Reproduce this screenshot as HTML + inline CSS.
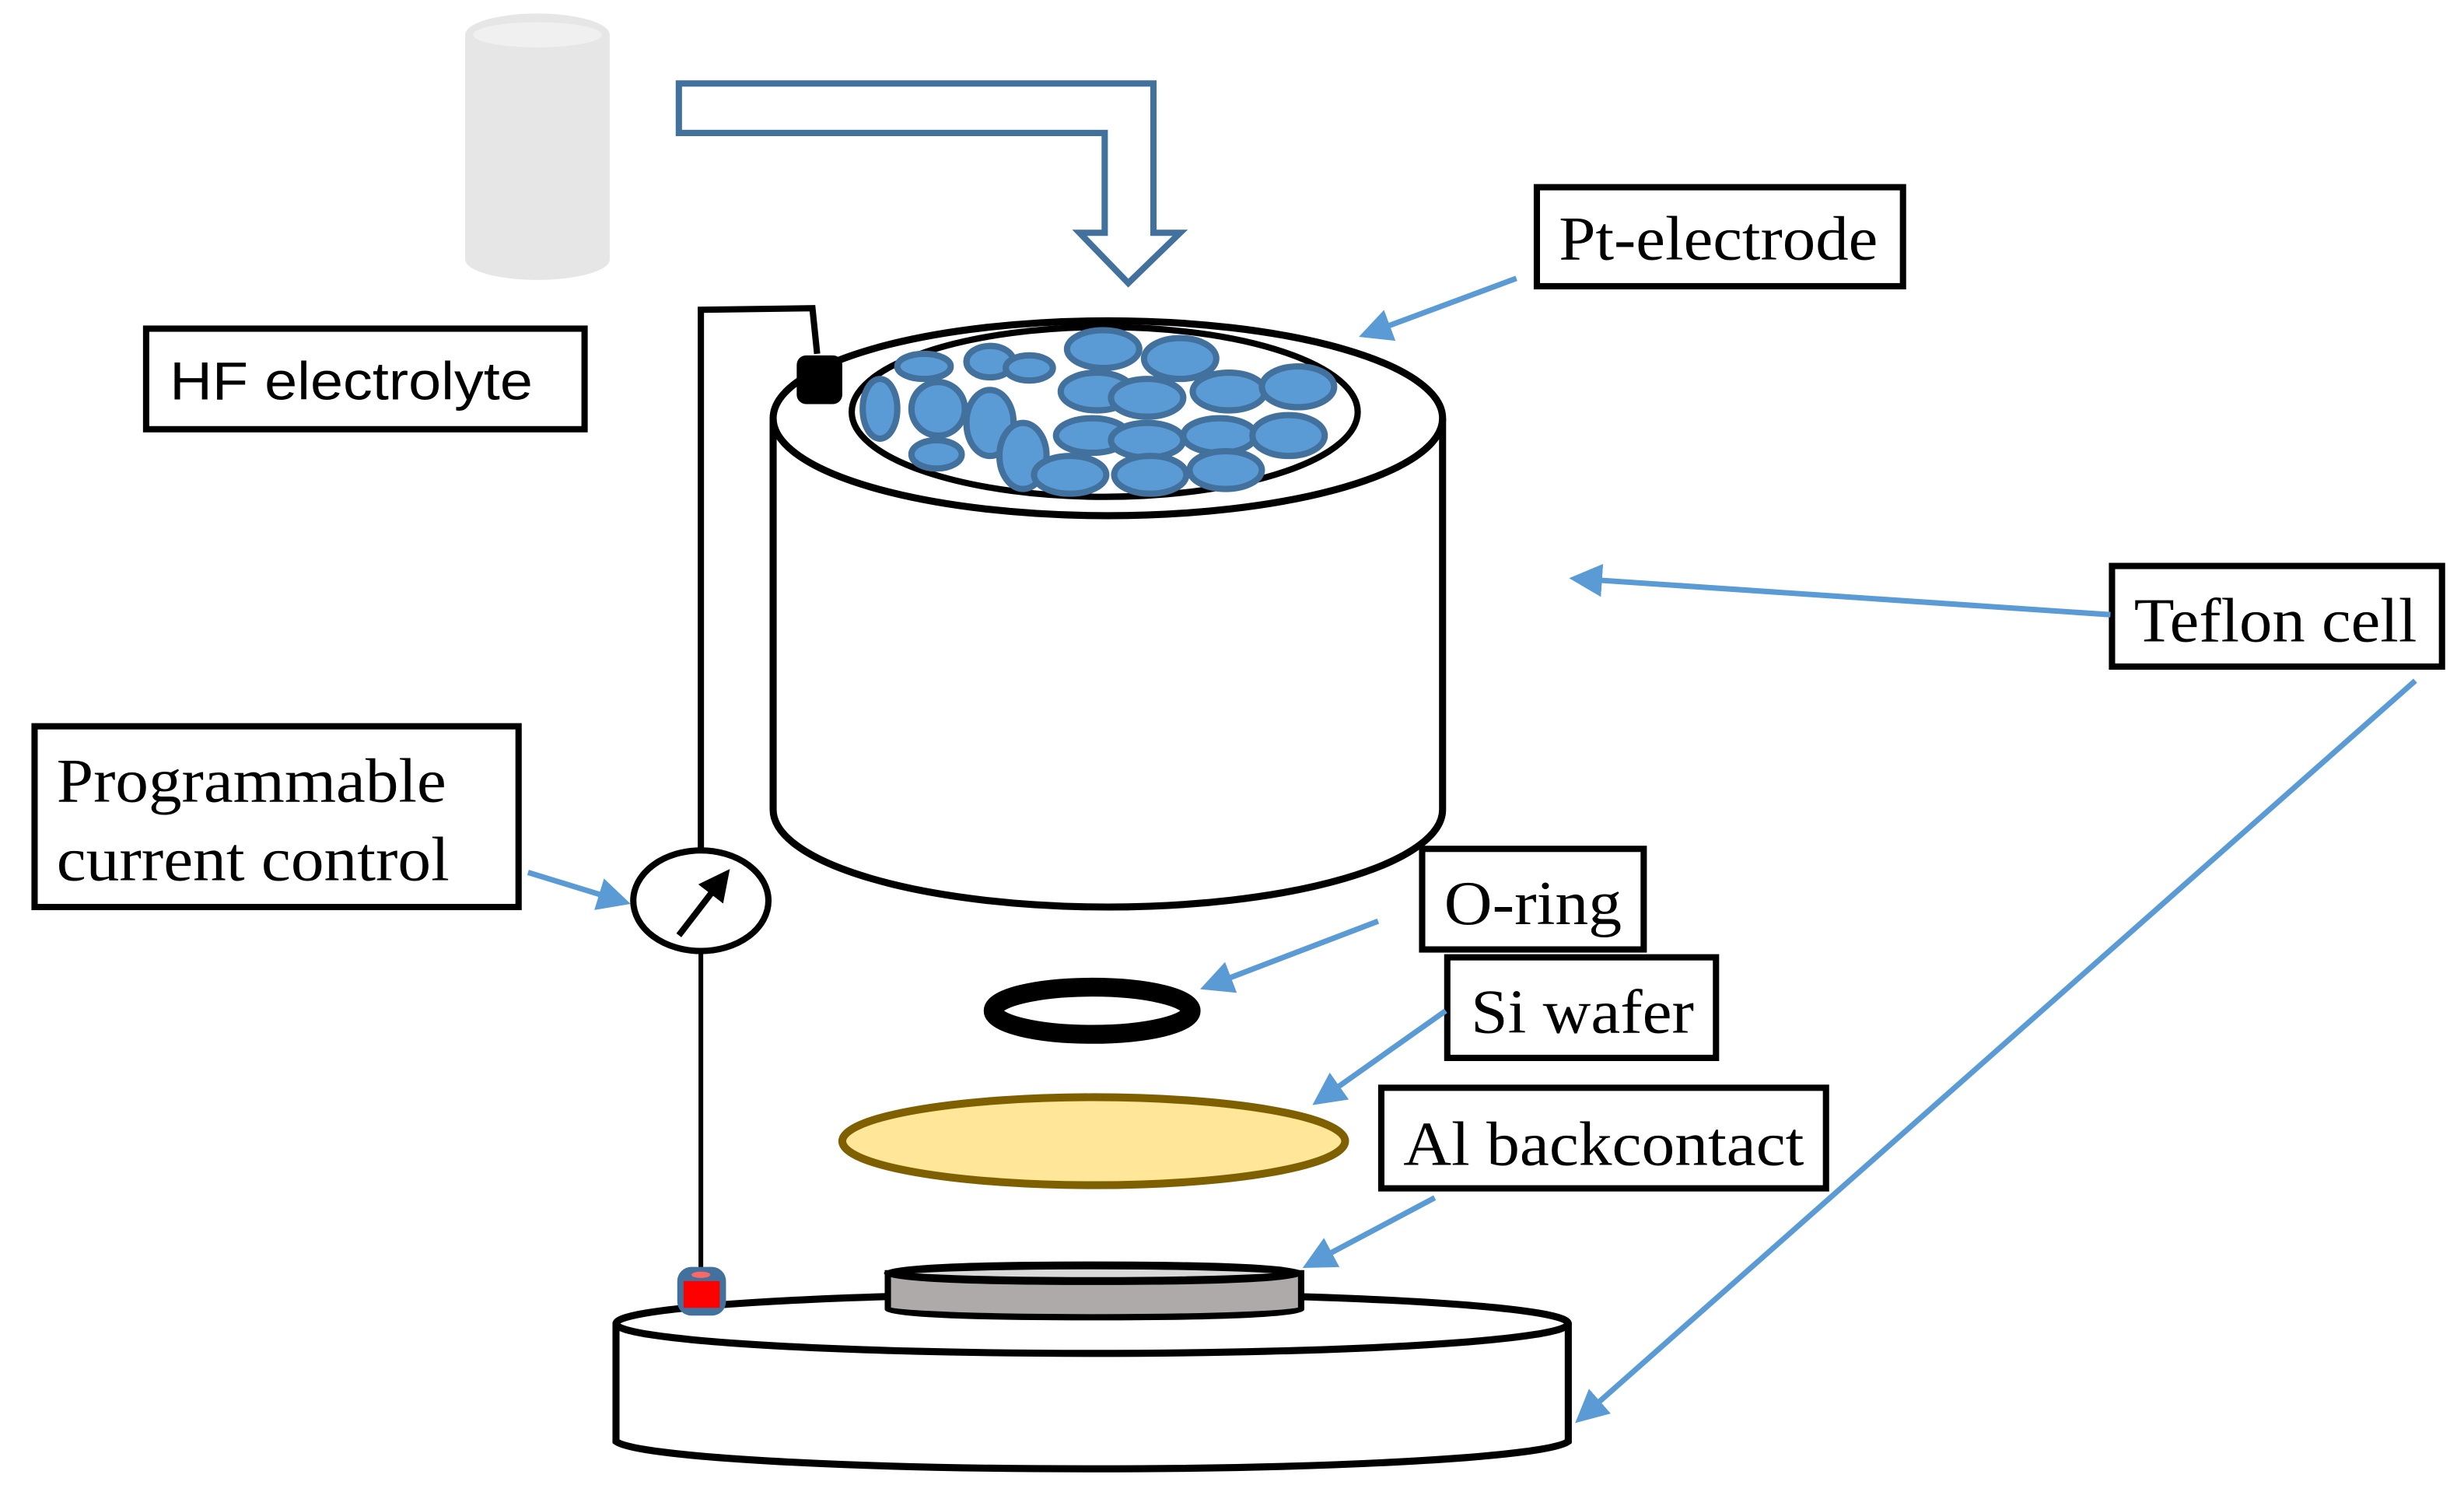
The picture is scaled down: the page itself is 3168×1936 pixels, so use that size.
<!DOCTYPE html>
<html><head><meta charset="utf-8"><style>
html,body{margin:0;padding:0;background:#fff;}
svg{display:block;}
.t{font-family:"Liberation Serif",serif;font-size:40px;fill:#000;}
</style></head><body>
<svg width="3168" height="1936" viewBox="0 0 1568 958" xmlns="http://www.w3.org/2000/svg">
<defs>
<marker id="ah" markerWidth="6" markerHeight="6" refX="5" refY="3" orient="auto" markerUnits="strokeWidth"><path d="M0,0 L6,3 L0,6 Z" fill="#5b9bd5"/></marker>
<marker id="bh" markerWidth="5" markerHeight="5" refX="4" refY="2.5" orient="auto" markerUnits="strokeWidth"><path d="M0,0 L5,2.5 L0,5 Z" fill="#000"/></marker>
</defs>
<rect width="1568" height="958" fill="#fff"/>
<path d="M296,22 L296,165 A46,13 0 0 0 388,165 L388,22 Z" fill="#e6e6e6"/>
<ellipse cx="342" cy="22" rx="46" ry="13.5" fill="#e6e6e6"/>
<ellipse cx="342" cy="22" rx="41" ry="8" fill="#f0f0f0"/>
<path d="M432,53 L734,53 L734,148 L751,148 L718,180 L687,148 L703,148 L703,84.5 L432,84.5 Z" fill="#fff" stroke="#41719c" stroke-width="4"/>
<rect x="93" y="209" width="279" height="64" fill="#fff" stroke="#000" stroke-width="4"/>
<text x="108" y="254" textLength="231" lengthAdjust="spacingAndGlyphs" style="font-family:'Liberation Sans',sans-serif;font-size:34px;">HF electrolyte</text>
<path d="M446,572 L446,197 L517,196 L520,225" fill="none" stroke="#000" stroke-width="4"/>
<path d="M492,266 L492,515 A213,62 0 0 0 918,515 L918,266" fill="#fff" stroke="#000" stroke-width="4.5"/>
<ellipse cx="705" cy="266" rx="213" ry="62" fill="#fff" stroke="#000" stroke-width="4.5"/>
<ellipse cx="703" cy="262" rx="161" ry="54" fill="#fff" stroke="#000" stroke-width="4"/>
<g fill="#5b9bd5" stroke="#41719c" stroke-width="4">
<ellipse cx="588" cy="233" rx="17" ry="8"/>
<ellipse cx="630" cy="230" rx="15" ry="10"/>
<ellipse cx="655" cy="234" rx="15" ry="8"/>
<ellipse cx="702" cy="222" rx="23" ry="12"/>
<ellipse cx="751" cy="228" rx="23" ry="13"/>
<ellipse cx="560" cy="260" rx="11" ry="19"/>
<ellipse cx="597" cy="260" rx="17" ry="17"/>
<ellipse cx="630" cy="269" rx="15" ry="21"/>
<ellipse cx="651" cy="290" rx="15" ry="21"/>
<ellipse cx="596" cy="289" rx="16" ry="9"/>
<ellipse cx="698" cy="249" rx="23" ry="12"/>
<ellipse cx="782" cy="249" rx="23" ry="12"/>
<ellipse cx="826" cy="246" rx="23" ry="13"/>
<ellipse cx="730" cy="253" rx="23" ry="12"/>
<ellipse cx="695" cy="277" rx="23" ry="11"/>
<ellipse cx="776" cy="277" rx="23" ry="11"/>
<ellipse cx="820" cy="277" rx="23" ry="13"/>
<ellipse cx="730" cy="280" rx="23" ry="11"/>
<ellipse cx="681" cy="302" rx="23" ry="12"/>
<ellipse cx="780" cy="299" rx="23" ry="12"/>
<ellipse cx="732" cy="302" rx="23" ry="12"/>
</g>
<rect x="507" y="226" width="29" height="31" rx="6" fill="#000"/>
<rect x="978" y="119" width="233" height="63" fill="#fff" stroke="#000" stroke-width="4"/>
<text class="t" x="992" y="165" textLength="203" lengthAdjust="spacingAndGlyphs">Pt-electrode</text>
<line x1="965" y1="177" x2="868" y2="213" stroke="#5b9bd5" stroke-width="3.5" marker-end="url(#ah)"/>
<rect x="1344" y="360" width="210" height="64" fill="#fff" stroke="#000" stroke-width="4"/>
<text class="t" x="1358" y="408" textLength="180" lengthAdjust="spacingAndGlyphs">Teflon cell</text>
<line x1="1343" y1="391" x2="1002" y2="368" stroke="#5b9bd5" stroke-width="3.5" marker-end="url(#ah)"/>
<line x1="1537" y1="433" x2="1005" y2="903" stroke="#5b9bd5" stroke-width="3.5" marker-end="url(#ah)"/>
<rect x="22" y="462" width="308" height="115" fill="#fff" stroke="#000" stroke-width="4"/>
<text class="t" x="36" y="510" textLength="248" lengthAdjust="spacingAndGlyphs">Programmable</text>
<text class="t" x="36" y="560" textLength="250" lengthAdjust="spacingAndGlyphs">current control</text>
<line x1="336" y1="555" x2="398" y2="574" stroke="#5b9bd5" stroke-width="3.5" marker-end="url(#ah)"/>
<ellipse cx="446" cy="573" rx="43" ry="32" fill="#fff" stroke="#000" stroke-width="4"/>
<line x1="432" y1="595" x2="462" y2="556" stroke="#000" stroke-width="4" marker-end="url(#bh)"/>
<line x1="446" y1="605" x2="446" y2="808" stroke="#000" stroke-width="3"/>
<rect x="905" y="540" width="141" height="64" fill="#fff" stroke="#000" stroke-width="4"/>
<text class="t" x="919" y="588" textLength="113" lengthAdjust="spacingAndGlyphs">O-ring</text>
<line x1="877" y1="586" x2="767" y2="628" stroke="#5b9bd5" stroke-width="3.5" marker-end="url(#ah)"/>
<ellipse cx="695" cy="643" rx="63" ry="15" fill="none" stroke="#000" stroke-width="12"/>
<rect x="921" y="609" width="171" height="64" fill="#fff" stroke="#000" stroke-width="4"/>
<text class="t" x="936" y="657" textLength="142" lengthAdjust="spacingAndGlyphs">Si wafer</text>
<line x1="920" y1="643" x2="838" y2="701" stroke="#5b9bd5" stroke-width="3.5" marker-end="url(#ah)"/>
<ellipse cx="696" cy="726" rx="160" ry="28" fill="#ffe699" stroke="#7f6000" stroke-width="5"/>
<rect x="879" y="692" width="283" height="64" fill="#fff" stroke="#000" stroke-width="4"/>
<text class="t" x="893" y="741" textLength="255" lengthAdjust="spacingAndGlyphs">Al backcontact</text>
<line x1="913" y1="762" x2="832" y2="805" stroke="#5b9bd5" stroke-width="3.5" marker-end="url(#ah)"/>
<path d="M392,842 L392,917 A304,19 0 0 0 998,917 L998,842" fill="#fff" stroke="#000" stroke-width="4.5"/>
<ellipse cx="695" cy="842" rx="303" ry="19" fill="#fff" stroke="#000" stroke-width="4.5"/>
<path d="M565,810 L565,833 A131,5 0 0 0 828,833 L828,810 Z" fill="#aeaaaa" stroke="#000" stroke-width="4"/>
<ellipse cx="696" cy="810" rx="131" ry="5" fill="#d9d9d9" stroke="#000" stroke-width="5"/>
<rect x="431" y="806" width="31" height="31" rx="9" fill="#41719c"/>
<rect x="435" y="815" width="23" height="17" fill="#ff0000"/>
<ellipse cx="446" cy="811" rx="6" ry="2" fill="#ff6666"/>
</svg>
</body></html>
